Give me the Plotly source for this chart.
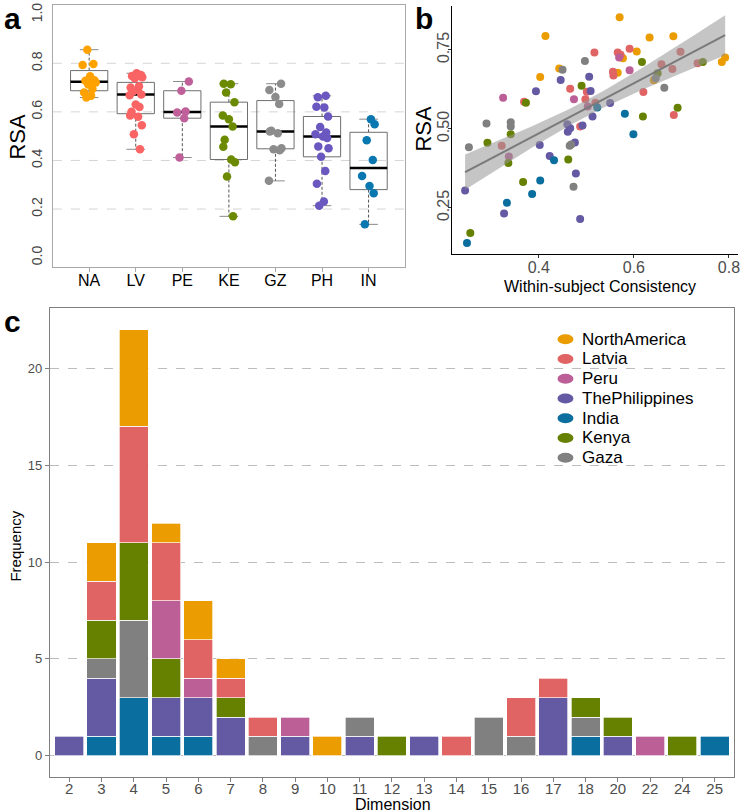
import numpy as np
import plotly.graph_objects as go

FONT = "Liberation Sans, Arial, Helvetica, sans-serif"

# ---------------- Panel a data (RSA per group) ----------------
groups_a = ["NA", "LV", "PE", "KE", "GZ", "PH", "IN"]
rsa_NA = [0.856, 0.797, 0.793, 0.747, 0.730, 0.728, 0.721, 0.713, 0.694, 0.680, 0.666, 0.659]
rsa_LV = [0.759, 0.752, 0.748, 0.743, 0.738, 0.705, 0.700, 0.690, 0.684, 0.672, 0.668,
          0.630, 0.620, 0.600, 0.585, 0.580, 0.545, 0.508, 0.446]
rsa_PE = [0.725, 0.687, 0.602, 0.597, 0.574, 0.412]
rsa_KE = [0.716, 0.714, 0.680, 0.640, 0.585, 0.570, 0.540, 0.485, 0.456, 0.404, 0.393, 0.334, 0.170]
rsa_GZ = [0.716, 0.690, 0.661, 0.632, 0.522, 0.519, 0.512, 0.450, 0.446, 0.442, 0.316]
rsa_PH = [0.666, 0.660, 0.621, 0.618, 0.581, 0.538, 0.515, 0.508, 0.499, 0.492, 0.457,
          0.450, 0.415, 0.357, 0.304, 0.231, 0.214]
rsa_IN = [0.570, 0.549, 0.483, 0.402, 0.336, 0.295, 0.265, 0.137]
colors_a = ["#FFA200", "#FA6464", "#C0609A", "#6B8A00", "#8C8C8C", "#6A58C0", "#0A78B0"]
a_ticks = [0.0, 0.2, 0.4, 0.6, 0.8, 1.0]
a_ticktext = ["0.0", "0.2", "0.4", "0.6", "0.8", "1.0"]
a_grid = [0.2, 0.4, 0.6, 0.8]

# ---------------- Panel b data (consistency vs RSA) ----------------
NA_x = [0.570, 0.414, 0.633, 0.683, 0.606, 0.577, 0.443, 0.566, 0.403, 0.642, 0.785, 0.792]
NA_y = [0.853, 0.794, 0.789, 0.793, 0.745, 0.724, 0.691, 0.678, 0.664, 0.654, 0.712, 0.726]
LV_x = [0.517, 0.566, 0.591, 0.698, 0.556, 0.557, 0.658, 0.681, 0.734, 0.466, 0.501, 0.620,
        0.369, 0.498, 0.519, 0.684, 0.487, 0.322, 0.572]
LV_y = [0.742, 0.742, 0.754, 0.744, 0.681, 0.669, 0.705, 0.690, 0.708, 0.627, 0.618, 0.617,
        0.586, 0.594, 0.583, 0.544, 0.508, 0.447, 0.735]
PE_x = [0.325, 0.569, 0.591, 0.474, 0.503, 0.337]
PE_y = [0.599, 0.726, 0.686, 0.594, 0.571, 0.413]
PH_x = [0.446, 0.506, 0.394, 0.509, 0.550, 0.513, 0.460, 0.466, 0.461, 0.492, 0.402, 0.476,
        0.423, 0.478, 0.245, 0.327, 0.487]
PH_y = [0.655, 0.665, 0.619, 0.620, 0.582, 0.539, 0.515, 0.502, 0.491, 0.511, 0.449, 0.457,
        0.414, 0.359, 0.305, 0.232, 0.215]
IN_x = [0.523, 0.581, 0.599, 0.432, 0.403, 0.386, 0.333, 0.249]
IN_y = [0.568, 0.548, 0.483, 0.401, 0.337, 0.294, 0.266, 0.139]
KE_x = [0.490, 0.617, 0.650, 0.745, 0.373, 0.692, 0.619, 0.341, 0.292, 0.336, 0.462, 0.367, 0.256]
KE_y = [0.637, 0.712, 0.676, 0.712, 0.583, 0.567, 0.539, 0.483, 0.456, 0.392, 0.403, 0.332, 0.171]
GZ_x = [0.497, 0.450, 0.646, 0.664, 0.290, 0.341, 0.341, 0.253, 0.465, 0.468, 0.473]
GZ_y = [0.715, 0.687, 0.660, 0.630, 0.517, 0.521, 0.508, 0.442, 0.447, 0.451, 0.317]

# ---------------- Panel c data (dimension frequency) ----------------
dims = ["2", "3", "4", "5", "6", "7", "8", "9", "10", "11", "12", "13", "14", "15", "16",
        "17", "18", "20", "22", "24", "25"]
freq_India        = [0, 1, 3, 1, 1, 0, 0, 0, 0, 0, 0, 0, 0, 0, 0, 0, 1, 0, 0, 0, 1]
freq_Philippines  = [1, 3, 0, 2, 2, 2, 0, 1, 0, 1, 0, 1, 0, 0, 0, 3, 0, 1, 0, 0, 0]
freq_Gaza         = [0, 1, 4, 0, 0, 0, 1, 0, 0, 1, 0, 0, 0, 2, 1, 0, 1, 0, 0, 0, 0]
freq_Kenya        = [0, 2, 4, 2, 0, 1, 0, 0, 0, 0, 1, 0, 0, 0, 0, 0, 1, 1, 0, 1, 0]
freq_Peru         = [0, 0, 0, 3, 1, 0, 0, 1, 0, 0, 0, 0, 0, 0, 0, 0, 0, 0, 1, 0, 0]
freq_Latvia       = [0, 2, 6, 3, 2, 1, 1, 0, 0, 0, 0, 0, 1, 0, 2, 1, 0, 0, 0, 0, 0]
freq_NorthAmerica = [0, 2, 5, 1, 2, 1, 0, 0, 1, 0, 0, 0, 0, 0, 0, 0, 0, 0, 0, 0, 0]
c_ticks = [0, 5, 10, 15, 20]

country_colors = {
    "NorthAmerica": "#EB9C00",
    "Latvia": "#E06464",
    "Peru": "#BC5F96",
    "ThePhilippines": "#6459A3",
    "India": "#0A6E9E",
    "Kenya": "#668000",
    "Gaza": "#808080",
}
legend_order = ["NorthAmerica", "Latvia", "Peru", "ThePhilippines", "India", "Kenya", "Gaza"]

fig = go.Figure()

# ================= Panel a =================
def fivenum(v):
    x = sorted(v)
    n = len(x)
    n4 = np.floor((n + 3) / 2) / 2
    d = [1, n4, (n + 1) / 2, n + 1 - n4, n]
    return [0.5 * (x[int(np.floor(di)) - 1] + x[int(np.ceil(di)) - 1]) for di in d]

rsa_groups = [rsa_NA, rsa_LV, rsa_PE, rsa_KE, rsa_GZ, rsa_PH, rsa_IN]
bx, by, mx, my, wx, wy, sx, sy = [], [], [], [], [], [], [], []
hw, sw = 0.4, 0.2
for i, vals in enumerate(rsa_groups, start=1):
    mn, q1, med, q3, mxv = fivenum(vals)
    iqr = q3 - q1
    lo = min(v for v in vals if v >= q1 - 1.5 * iqr)
    hi = max(v for v in vals if v <= q3 + 1.5 * iqr)
    bx += [i - hw, i + hw, i + hw, i - hw, i - hw, None]
    by += [q1, q1, q3, q3, q1, None]
    mx += [i - hw, i + hw, None]
    my += [med, med, None]
    wx += [i, i, None, i, i, None]
    wy += [q3, hi, None, q1, lo, None]
    sx += [i - sw, i + sw, None, i - sw, i + sw, None]
    sy += [hi, hi, None, lo, lo, None]

fig.add_trace(go.Scatter(x=wx, y=wy, mode="lines", xaxis="x", yaxis="y", showlegend=False,
                         line=dict(color="#555555", width=1, dash="3px,2px"), hoverinfo="skip"))
fig.add_trace(go.Scatter(x=sx, y=sy, mode="lines", xaxis="x", yaxis="y", showlegend=False,
                         line=dict(color="#8A8A8A", width=1), hoverinfo="skip"))
fig.add_trace(go.Scatter(x=bx, y=by, mode="lines", xaxis="x", yaxis="y", showlegend=False,
                         line=dict(color="#6E6E6E", width=1), hoverinfo="skip"))
fig.add_trace(go.Scatter(x=mx, y=my, mode="lines", xaxis="x", yaxis="y", showlegend=False,
                         line=dict(color="black", width=2.5), hoverinfo="skip"))

JIT = [-0.12, 0.05, 0.13, -0.04, 0.09, -0.14, 0.02, 0.11, -0.08, 0.14, -0.02, 0.07,
       -0.11, 0.04, -0.06, 0.12, -0.13, 0.0, 0.08, -0.09]
for i, (vals, col) in enumerate(zip(rsa_groups, colors_a), start=1):
    xs = [i + JIT[(k + 3 * i) % len(JIT)] for k in range(len(vals))]
    fig.add_trace(go.Scatter(x=xs, y=vals, mode="markers", xaxis="x", yaxis="y",
                             showlegend=False, marker=dict(color=col, size=8.5)))

# ================= Panel b =================
b_sets = [
    ("NorthAmerica", NA_x, NA_y), ("Latvia", LV_x, LV_y), ("Peru", PE_x, PE_y),
    ("ThePhilippines", PH_x, PH_y), ("India", IN_x, IN_y), ("Kenya", KE_x, KE_y),
    ("Gaza", GZ_x, GZ_y),
]
for name, xs, ys in b_sets:
    fig.add_trace(go.Scatter(x=xs, y=ys, mode="markers", xaxis="x2", yaxis="y2",
                             showlegend=False,
                             marker=dict(color=country_colors[name], size=8)))

X = np.array(sum([s[1] for s in b_sets], []))
Y = np.array(sum([s[2] for s in b_sets], []))
b1, b0 = np.polyfit(X, Y, 1)
n = len(X)
resid = Y - (b0 + b1 * X)
s = np.sqrt(np.sum(resid ** 2) / (n - 2))
xm = X.mean()
sxx = np.sum((X - xm) ** 2)
xg = np.linspace(X.min(), X.max(), 80)
yg = b0 + b1 * xg
se = s * np.sqrt(1.0 / n + (xg - xm) ** 2 / sxx)
tval = 1.989
fig.add_trace(go.Scatter(x=xg, y=yg + tval * se, mode="lines", xaxis="x2", yaxis="y2",
                         line=dict(width=0), showlegend=False, hoverinfo="skip"))
fig.add_trace(go.Scatter(x=xg, y=yg - tval * se, mode="lines", xaxis="x2", yaxis="y2",
                         line=dict(width=0), fill="tonexty",
                         fillcolor="rgba(150,150,150,0.55)", showlegend=False, hoverinfo="skip"))
fig.add_trace(go.Scatter(x=xg, y=yg, mode="lines", xaxis="x2", yaxis="y2",
                         line=dict(color="#7A7A7A", width=2), showlegend=False, hoverinfo="skip"))

# ================= Panel c =================
stack = [
    ("India", freq_India), ("ThePhilippines", freq_Philippines), ("Gaza", freq_Gaza),
    ("Kenya", freq_Kenya), ("Peru", freq_Peru), ("Latvia", freq_Latvia),
    ("NorthAmerica", freq_NorthAmerica),
]
for name, vals in stack:
    fig.add_trace(go.Bar(x=dims, y=[v if v > 0 else None for v in vals], name=name,
                         xaxis="x3", yaxis="y3", showlegend=False,
                         marker=dict(color=country_colors[name],
                                     line=dict(color="rgba(255,255,255,0.85)", width=0.8))))

# ================= Layout =================
W, H = 741.0, 812.0

def px_x(p):
    return p / W

def px_y(p):
    return 1 - p / H

shapes = []
for g in a_grid:
    shapes.append(dict(type="line", xref="x domain", yref="y", x0=0, x1=1, y0=g, y1=g,
                       line=dict(color="#D5D5D5", width=1, dash="dash"), layer="below"))

annotations = [
    dict(text="<b>a</b>", x=px_x(2), y=px_y(-2), xanchor="left", yanchor="top",
         font=dict(size=30)),
    dict(text="<b>b</b>", x=px_x(414), y=px_y(-2), xanchor="left", yanchor="top",
         font=dict(size=30)),
    dict(text="<b>c</b>", x=px_x(2), y=px_y(302), xanchor="left", yanchor="top",
         font=dict(size=30)),
    dict(text="RSA", x=px_x(18), y=px_y(135), textangle=-90, xanchor="center",
         yanchor="middle", font=dict(size=22)),
    dict(text="RSA", x=px_x(425), y=px_y(127), textangle=-90, xanchor="center",
         yanchor="middle", font=dict(size=22)),
    dict(text="Within-subject Consistency", x=px_x(602), y=px_y(285), xanchor="center",
         yanchor="middle", font=dict(size=16)),
    dict(text="Frequency", x=px_x(16), y=px_y(545), textangle=-90, xanchor="center",
         yanchor="middle", font=dict(size=15)),
    dict(text="Dimension", x=px_x(394), y=px_y(804), xanchor="center", yanchor="middle",
         font=dict(size=16)),
]
for a in annotations:
    a.update(xref="paper", yref="paper", showarrow=False)
    a["font"].update(family=FONT, color="black")

# manual legend (ellipse keys + labels)
leg_x_key, leg_x_text, leg_y0, leg_dy = 567, 582, 338, 19.8
for k, name in enumerate(legend_order):
    yc = leg_y0 + k * leg_dy
    shapes.append(dict(type="circle", xref="paper", yref="paper",
                       x0=px_x(leg_x_key - 8), x1=px_x(leg_x_key + 8),
                       y0=px_y(yc + 5), y1=px_y(yc - 5),
                       fillcolor=country_colors[name], line=dict(width=0)))
    annotations.append(dict(text=name, x=px_x(leg_x_text), y=px_y(yc), xref="paper",
                            yref="paper", xanchor="left", yanchor="middle", showarrow=False,
                            font=dict(size=17, family=FONT, color="black")))

fig.update_layout(
    width=741, height=812,
    margin=dict(l=0, r=0, t=0, b=0),
    paper_bgcolor="white", plot_bgcolor="white",
    font=dict(family=FONT, color="black"),
    barmode="stack", bargap=0.1, showlegend=False,
    shapes=shapes, annotations=annotations,
    xaxis=dict(domain=[px_x(53), px_x(406)], range=[0.22, 7.78], anchor="y",
               tickvals=list(range(1, 8)), ticktext=groups_a,
               showline=True, mirror=True, linecolor="#A8A8A8", linewidth=1.3,
               ticks="outside", ticklen=4, tickcolor="#A8A8A8", ticklabelstandoff=-6,
               tickfont=dict(size=16, color="black"), showgrid=False, zeroline=False),
    yaxis=dict(domain=[px_y(266), px_y(3)], range=[-0.04, 1.04], anchor="x",
               tickvals=a_ticks, ticktext=a_ticktext, tickangle=-90,
               showline=True, mirror=True, linecolor="#A8A8A8", linewidth=1.3,
               ticks="", ticklabelstandoff=4,
               tickfont=dict(size=14, color="#444444"), showgrid=False, zeroline=False),
    xaxis2=dict(domain=[px_x(453), px_x(740)], range=[0.217, 0.819], anchor="y2",
                tickvals=[0.4, 0.6, 0.8], ticktext=["0.4", "0.6", "0.8"],
                showline=True, linecolor="black", linewidth=1,
                ticks="outside", ticklen=3, tickcolor="#333333", ticklabelstandoff=-5,
                ticklabeloverflow="allow",
                tickfont=dict(size=16, color="#4D4D4D"), showgrid=False, zeroline=False),
    yaxis2=dict(domain=[px_y(253), px_y(4)], range=[0.103, 0.889], anchor="x2",
                tickvals=[0.25, 0.5, 0.75], ticktext=["0.25", "0.50", "0.75"], tickangle=-90,
                showline=True, linecolor="black", linewidth=1,
                ticks="outside", ticklen=3, tickcolor="#333333", ticklabelstandoff=-8,
                tickfont=dict(size=16, color="#4D4D4D"), showgrid=False, zeroline=False),
    xaxis3=dict(domain=[px_x(50), px_x(736)], type="category", range=[-0.6, 20.6], anchor="y3",
                showline=True, mirror=True, linecolor="#7F7F7F", linewidth=1.2,
                ticks="outside", ticklen=4, tickcolor="#7F7F7F", ticklabelstandoff=-6,
                tickfont=dict(size=15, color="#4D4D4D"), showgrid=False, zeroline=False),
    yaxis3=dict(domain=[px_y(777), px_y(307)], range=[-1.1, 23.1], anchor="x3",
                tickvals=c_ticks, showline=True, mirror=True, linecolor="#7F7F7F", linewidth=1.2,
                ticks="outside", ticklen=4, tickcolor="#7F7F7F",
                tickfont=dict(size=13, color="#4D4D4D"),
                showgrid=True, gridcolor="#BDBDBD", griddash="dash", gridwidth=1, zeroline=False),
)

fig.write_html("out.html", config={"displayModeBar": False},
               post_script="document.body.style.margin='0px';")
